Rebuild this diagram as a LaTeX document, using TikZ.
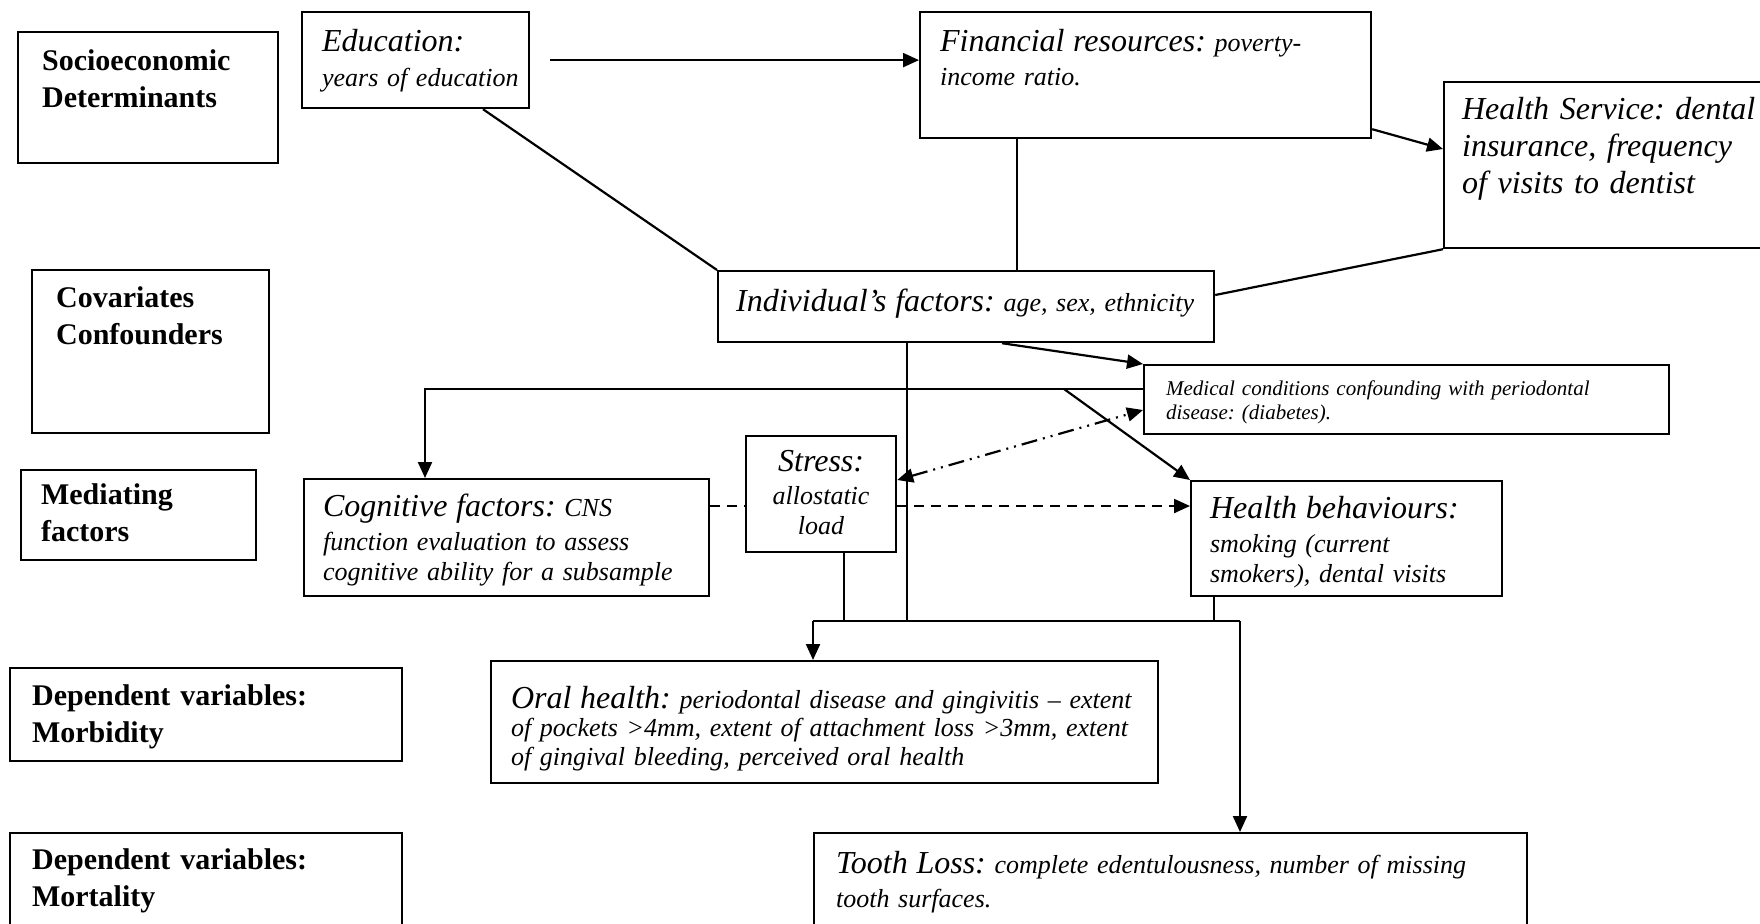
\documentclass[tikz,border=0pt]{standalone}
\usepackage{fontspec}
\setmainfont{Liberation Serif}
\usetikzlibrary{arrows.meta, calc}

\newcommand{\headfont}{\fontsize{16}{18.5}\selectfont}
\tikzset{
  box/.style={draw, line width=1.1pt, anchor=north west, align=left,
    inner xsep=10pt, inner ysep=6pt,
    font=\fontsize{13}{15}\selectfont\itshape},
  side/.style={box, inner xsep=11pt, font=\fontsize{15}{18.5}\selectfont\bfseries},
  link/.style={line width=1.1pt},
}

\begin{document}
\frenchspacing
\begin{tikzpicture}[x=0.5pt, y=-0.5pt, >={Triangle[length=8pt,width=7pt]}]
  \useasboundingbox (0,0) rectangle (1760,923);
  % row labels
  \node[side, inner xsep=12pt, text width=106pt, text height=13pt, text depth=40.5pt] (socio) at (17,31) {Socioeconomic\\Determinants};
  \node[side, inner xsep=12pt, text width=94.5pt, text height=12.5pt, text depth=57pt] (covar) at (31,269) {Covariates\\Confounders};
  \node[side, inner xsep=10pt, text width=97.5pt, text height=11pt, text depth=22pt] (medi) at (20,469) {Mediating\\factors};
  \node[side, text width=174pt, text height=12.5pt, text depth=22pt] (morb) at (9,667) {Dependent variables:\\Morbidity};
  \node[side, text width=174pt, text height=12pt, text depth=26pt] (mort) at (9,832) {Dependent variables:\\Mortality};
  % socioeconomic determinants
  \node[box, inner xsep=10pt, text width=93.5pt, text height=13.5pt, text depth=22.5pt] (edu) at (301,11) {{\headfont Education:}\\[2.5pt]\mbox{years of education}};
  \node[box, text width=205.5pt, text height=13.5pt, text depth=37.5pt] (fin) at (919,11) {{\headfont Financial resources:} poverty-\\[2pt]income ratio.};
  \node[box, inner xsep=9pt, text width=155pt, text height=12.5pt, text depth=58.5pt, font=\headfont\itshape] (hs) at (1443,81) {Health Service: dental\\insurance, frequency\\of visits to dentist};
  % covariates
  \node[box, inner xsep=9pt, text width=230pt, text height=14pt, text depth=9.5pt] (ind) at (717,270) {{\headfont Individual’s factors:} age, sex, ethnicity};
  \node[box, inner xsep=11pt, text width=240.5pt, text height=9pt, text depth=13.5pt, font=\fontsize{10.5}{12}\selectfont\itshape] (med) at (1143,364) {Medical conditions confounding with periodontal\\disease: (diabetes).};
  % mediating factors
  \node[box, inner xsep=5pt, text width=65pt, align=center, text height=11.5pt, text depth=34.5pt] (stress) at (745,435) {{\headfont Stress:}\\[1.5pt]allostatic\\load};
  \node[box, inner xsep=9.5pt, text width=183.5pt, text height=12.5pt, text depth=34pt] (cog) at (303,478) {{\headfont Cognitive factors:} CNS\\[2pt]function evaluation to assess\\cognitive ability for a subsample};
  \node[box, inner xsep=9.5pt, text width=136.5pt, text height=12.5pt, text depth=33pt] (hb) at (1190,480) {{\headfont Health behaviours:}\\[2pt]smoking (current\\smokers), dental visits};
  % outcomes
  \node[box, text width=313.5pt, text height=17.5pt, text depth=31.5pt, font=\fontsize{13}{14.3}\selectfont\itshape] (oral) at (490,660) {{\headfont Oral health:} periodontal disease and gingivitis -- extent\\of pockets >4mm, extent of attachment loss >3mm, extent\\of gingival bleeding, perceived oral health};
  \node[box, inner xsep=11pt, text width=334.5pt, text height=14pt, text depth=28pt] (tooth) at (813,832) {{\headfont Tooth Loss:} complete edentulousness, number of missing\\[2pt]tooth surfaces.};
  % top row links
  \draw[link, ->, shorten <=10pt] (edu.east) -- (edu.east -| fin.west);
  \draw[link, ->] ($(fin.south east)+(0,-10)$) -- ($(hs.north west)+(0,68)$);
  \draw[link] ($(edu.south west)+(182,0)$) -- (ind.north west);
  \coordinate (finfoot) at ($(fin.south west)+(98,0)$);
  \draw[link] (finfoot) -- (finfoot |- ind.north);
  \draw[link] (hs.south west) -- ($(ind.north east)+(0,25)$);
  % from individual's factors
  \coordinate (jl) at (813,621);
  \coordinate (jr) at (1240,621);
  \coordinate (indfoot) at ($(ind.south west)+(190,0)$);
  \draw[link] (indfoot) -- (indfoot |- jl);
  \draw[link, ->] ($(ind.south west)+(285,0)$) -- (med.north west);
  \coordinate (bus) at ($(med.north west)+(0,25)$);
  \coordinate (cogin) at ($(cog.north west)+(122,0)$);
  \draw[link, ->] (bus) -- (bus -| cogin) -- (cogin);
  \draw[link, ->] ($(bus)+(-79,0)$) -- (hb.north west);
  % mediators
  \draw[link, <->, dash pattern=on 8pt off 3pt on 1pt off 3pt on 1pt off 3pt] ($(stress.north east)+(0,45)$) -- ($(med.north west)+(0,46)$);
  \coordinate (dsh) at ($(cog.north east)+(0,28)$);
  \draw[link, dash pattern=on 5pt off 3.5pt] (dsh) -- (dsh -| stress.west);
  \draw[link, dash pattern=on 5pt off 3.5pt, ->] (dsh -| stress.east) -- (dsh -| hb.west);
  % to outcomes
  \coordinate (stressfoot) at ($(stress.south west)+(99,0)$);
  \draw[link] (stressfoot) -- (stressfoot |- jl);
  \coordinate (hbfoot) at ($(hb.south west)+(24,0)$);
  \draw[link] (hbfoot) -- (hbfoot |- jl);
  \draw[link] (jl) -- (jr);
  \draw[link, ->] (jl) -- (jl |- oral.north);
  \draw[link, ->] (jr) -- (jr |- tooth.north);
\end{tikzpicture}
\end{document}
